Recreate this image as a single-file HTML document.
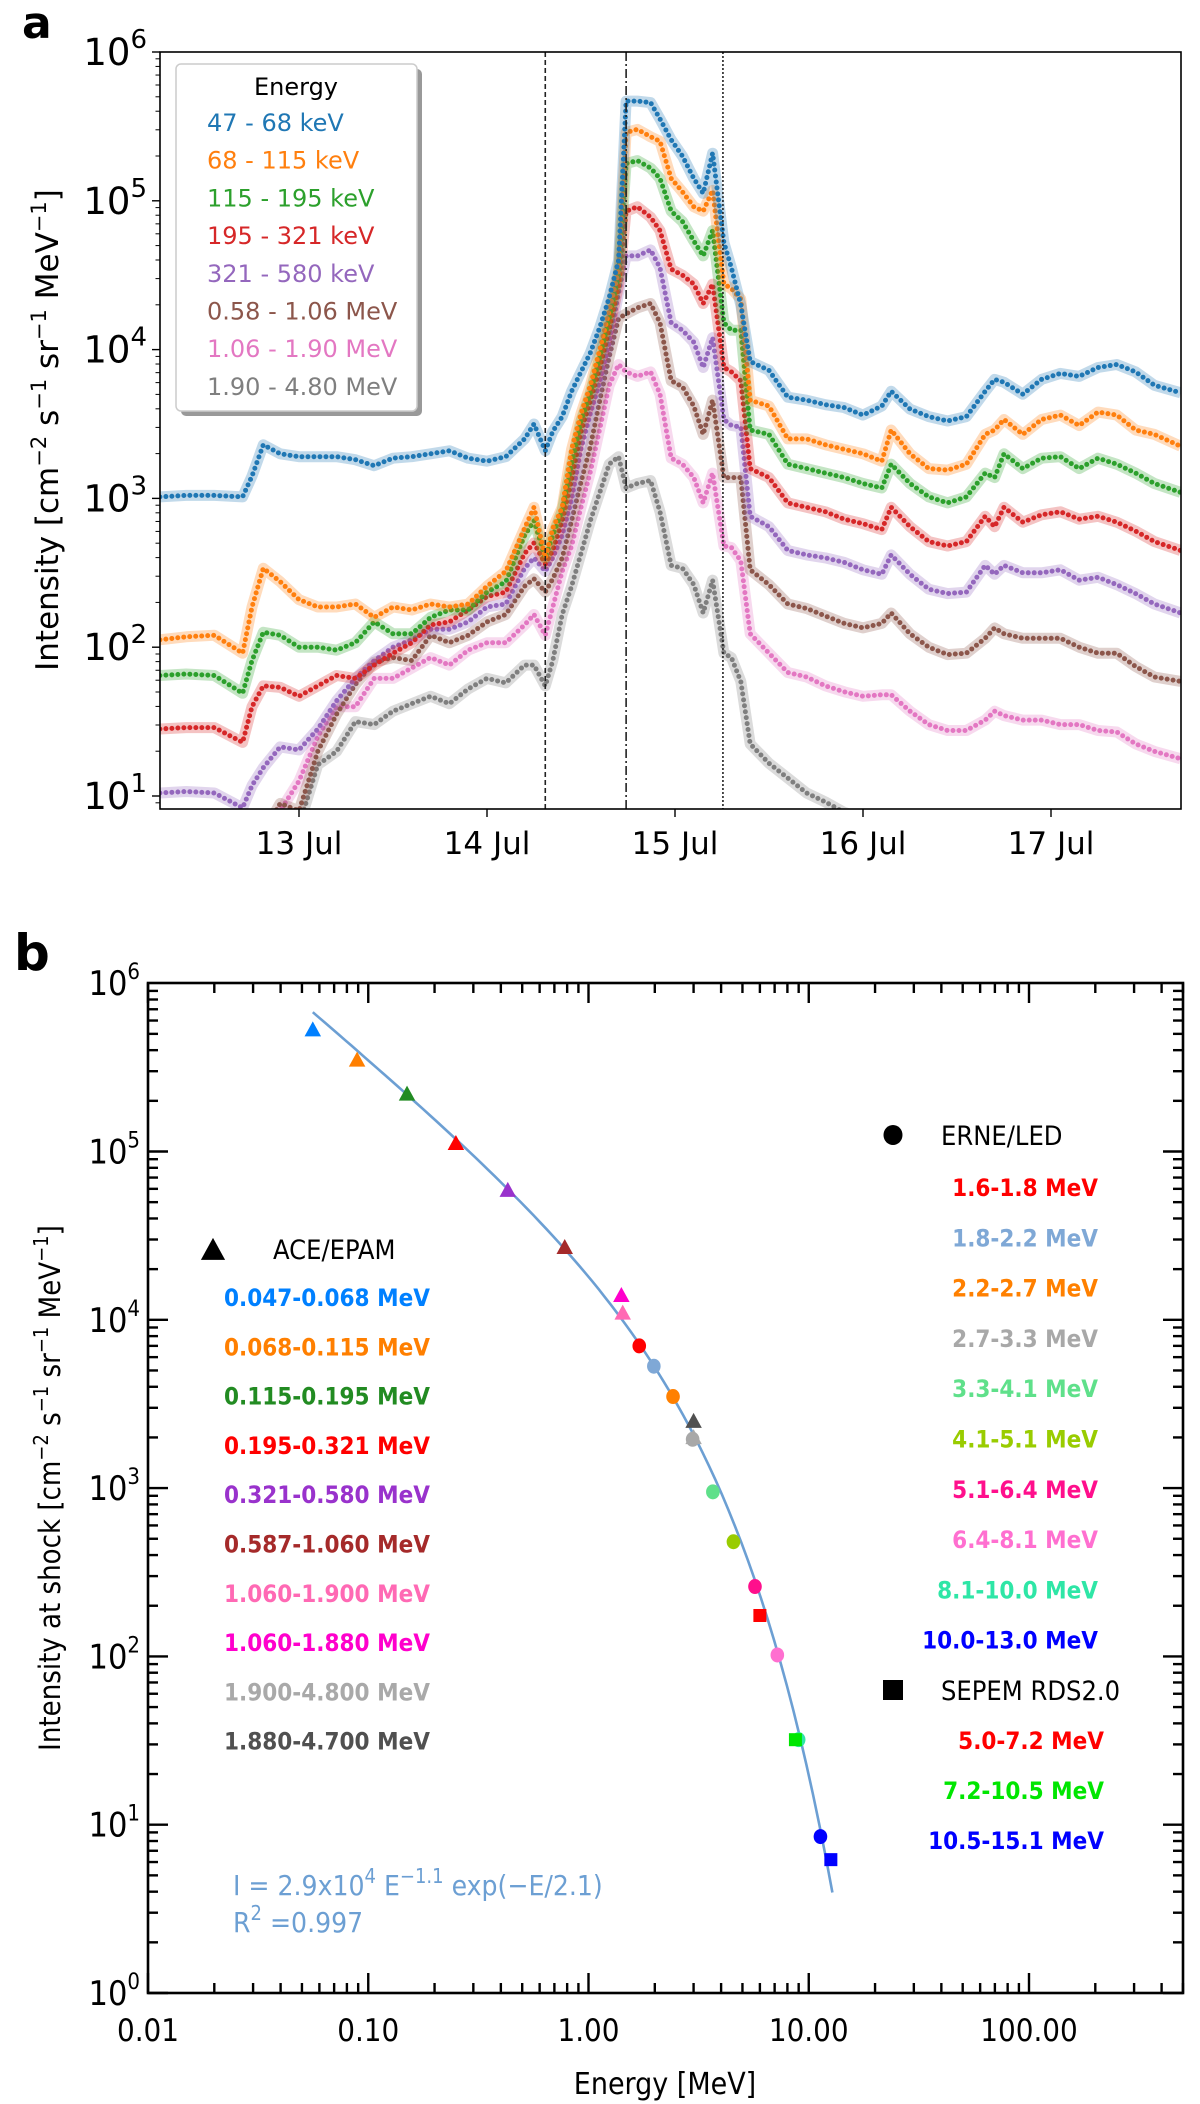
<!DOCTYPE html>
<html><head><meta charset="utf-8"><style>
html,body{margin:0;padding:0;background:#fff;}
svg{display:block;}
.ta{font-family:"DejaVu Sans","Liberation Sans",sans-serif;}
.tb{font-family:"DejaVu Sans Condensed","Liberation Sans Narrow","DejaVu Sans",sans-serif;}
</style></head><body>
<svg id="fig" width="1200" height="2104" viewBox="0 0 1200 2104" xmlns="http://www.w3.org/2000/svg">
<defs>
<clipPath id="clipA"><rect x="160" y="52" width="1021" height="757"/></clipPath>
<clipPath id="clipB"><rect x="148" y="983" width="1035" height="1010"/></clipPath>
</defs>
<text x="22" y="38" class="ta" font-size="44" font-weight="bold">a</text>
<g id="panelA"></g>
<text x="14" y="970" class="ta" font-size="50" font-weight="bold">b</text>
<g id="panelB"></g>
</svg>
<script>
// ---------- Panel a data (log10 intensity) ----------
const times = [12.26,12.4,12.55,12.7,12.75,12.81,12.9,13.0,13.1,13.2,13.3,13.4,13.5,13.6,13.7,13.8,13.9,14.0,14.1,14.2,14.25,14.31,14.35,14.4,14.45,14.5,14.55,14.6,14.65,14.7,14.74,14.8,14.87,14.92,14.98,15.04,15.1,15.15,15.2,15.26,15.3,15.35,15.4,15.5,15.6,15.7,15.8,15.9,16.0,16.1,16.15,16.25,16.35,16.45,16.55,16.65,16.7,16.75,16.85,16.95,17.05,17.15,17.25,17.35,17.45,17.55,17.69];
const logBlue = [3.01,3.02,3.02,3.01,3.15,3.36,3.30,3.28,3.28,3.28,3.26,3.22,3.27,3.28,3.30,3.32,3.27,3.25,3.28,3.40,3.50,3.32,3.45,3.55,3.72,3.85,3.98,4.15,4.35,4.60,5.67,5.67,5.66,5.55,5.41,5.30,5.15,5.05,5.32,4.72,4.55,4.30,3.92,3.86,3.68,3.66,3.63,3.61,3.56,3.62,3.72,3.60,3.55,3.52,3.55,3.72,3.80,3.78,3.70,3.80,3.84,3.82,3.88,3.90,3.85,3.76,3.71];
const logOrange = [2.05,2.07,2.08,1.96,2.27,2.53,2.44,2.32,2.27,2.27,2.29,2.20,2.27,2.25,2.29,2.27,2.29,2.41,2.51,2.80,2.94,2.60,2.80,2.94,3.33,3.57,3.76,4.00,4.26,4.53,5.46,5.48,5.43,5.40,5.15,5.06,4.96,4.93,5.07,4.44,4.41,4.34,3.66,3.62,3.40,3.40,3.36,3.33,3.30,3.25,3.46,3.30,3.20,3.19,3.23,3.43,3.46,3.53,3.43,3.53,3.56,3.49,3.58,3.56,3.46,3.43,3.35];
const logGreen = [1.81,1.82,1.81,1.69,1.91,2.10,2.08,2.00,2.00,1.98,2.03,2.17,2.09,2.09,2.20,2.25,2.25,2.37,2.44,2.75,2.85,2.60,2.75,2.92,3.23,3.52,3.71,3.95,4.21,4.50,5.25,5.27,5.22,5.15,4.93,4.86,4.73,4.63,4.80,4.18,4.13,4.13,3.46,3.43,3.23,3.20,3.17,3.14,3.10,3.07,3.23,3.10,3.01,2.97,3.01,3.17,3.14,3.30,3.20,3.27,3.28,3.20,3.27,3.23,3.17,3.10,3.04];
const logRed = [1.45,1.46,1.46,1.36,1.60,1.74,1.73,1.67,1.74,1.81,1.79,1.88,1.96,2.03,2.15,2.17,2.25,2.34,2.37,2.63,2.70,2.56,2.65,2.85,3.13,3.45,3.66,3.88,4.14,4.43,4.93,4.96,4.89,4.80,4.54,4.50,4.44,4.31,4.44,3.88,3.85,3.79,3.20,3.14,2.97,2.94,2.91,2.86,2.83,2.79,2.94,2.81,2.71,2.68,2.71,2.88,2.81,2.94,2.84,2.89,2.91,2.86,2.88,2.84,2.78,2.71,2.65];
const logPurple = [1.02,1.03,1.02,0.92,1.07,1.19,1.33,1.31,1.45,1.64,1.79,1.91,2.00,2.05,2.12,2.12,2.17,2.27,2.29,2.53,2.60,2.51,2.60,2.75,2.99,3.33,3.57,3.78,4.05,4.38,4.63,4.63,4.67,4.55,4.18,4.13,4.05,3.88,4.08,3.53,3.49,3.48,2.88,2.81,2.65,2.62,2.60,2.57,2.52,2.49,2.62,2.49,2.39,2.36,2.37,2.55,2.49,2.55,2.50,2.50,2.52,2.45,2.47,2.42,2.36,2.29,2.23];
const logBrown = [0.60,0.60,0.60,0.60,0.60,0.75,0.95,0.90,1.30,1.55,1.75,1.90,1.93,1.91,2.08,2.03,2.08,2.17,2.22,2.41,2.46,2.37,2.46,2.60,2.85,3.11,3.35,3.66,3.95,4.21,4.24,4.28,4.31,4.18,3.79,3.75,3.62,3.43,3.66,3.14,3.14,3.14,2.52,2.42,2.29,2.26,2.21,2.16,2.13,2.16,2.23,2.09,2.00,1.95,1.96,2.06,2.13,2.09,2.06,2.06,2.06,2.00,1.96,1.96,1.87,1.80,1.77];
const logPink = [0.50,0.50,0.50,0.50,0.50,0.60,0.90,1.10,1.40,1.60,1.60,1.79,1.79,1.86,1.93,1.88,1.98,2.03,2.03,2.15,2.22,2.08,2.27,2.51,2.68,2.94,3.18,3.47,3.76,3.90,3.85,3.82,3.85,3.70,3.27,3.23,3.14,2.97,3.17,2.68,2.67,2.58,2.09,1.96,1.83,1.80,1.74,1.70,1.67,1.68,1.68,1.57,1.48,1.44,1.44,1.51,1.57,1.54,1.51,1.51,1.48,1.48,1.44,1.43,1.35,1.30,1.25];
const logGray = [0.50,0.50,0.50,0.50,0.50,0.50,0.50,0.80,1.21,1.30,1.50,1.48,1.57,1.62,1.67,1.62,1.72,1.79,1.76,1.88,1.88,1.74,1.91,2.22,2.41,2.63,2.85,3.04,3.23,3.28,3.07,3.10,3.12,2.91,2.55,2.53,2.42,2.23,2.45,1.96,1.93,1.77,1.35,1.22,1.12,1.02,0.96,0.89,0.85,0.80,0.85,0.60,0.60,0.60,0.60,0.60,0.60,0.60,0.60,0.60,0.60,0.60,0.60,0.60,0.60,0.60,0.60];
const seriesLabelsA = ["47 - 68 keV","68 - 115 keV","115 - 195 keV","195 - 321 keV","321 - 580 keV","0.58 - 1.06 MeV","1.06 - 1.90 MeV","1.90 - 4.80 MeV"];
const dayTicks = [13,14,15,16,17];
const dayTickLabels = ["13 Jul","14 Jul","15 Jul","16 Jul","17 Jul"];
const eventLines = [14.31,14.74,15.255];

// ---------- Panel b data ----------
const aceLabels = ["0.047-0.068 MeV","0.068-0.115 MeV","0.115-0.195 MeV","0.195-0.321 MeV","0.321-0.580 MeV","0.587-1.060 MeV","1.060-1.900 MeV","1.060-1.880 MeV","1.900-4.800 MeV","1.880-4.700 MeV"];
const aceEnergy = [0.056,0.089,0.15,0.25,0.43,0.78,1.43,1.41,3.0,3.0];
const aceIntensity = [5.3e5,3.5e5,2.2e5,1.12e5,5.9e4,2.7e4,1.1e4,1.4e4,2.0e3,2.5e3];
const erneLabels = ["1.6-1.8 MeV","1.8-2.2 MeV","2.2-2.7 MeV","2.7-3.3 MeV","3.3-4.1 MeV","4.1-5.1 MeV","5.1-6.4 MeV","6.4-8.1 MeV","8.1-10.0 MeV","10.0-13.0 MeV"];
const erneEnergy = [1.7,1.98,2.42,2.97,3.67,4.55,5.7,7.2,9.0,11.3];
const erneIntensity = [7.0e3,5.3e3,3.5e3,1.95e3,950,480,260,102,32,8.5];
const sepemLabels = ["5.0-7.2 MeV","7.2-10.5 MeV","10.5-15.1 MeV"];
const sepemEnergy = [6.0,8.7,12.6];
const sepemIntensity = [175,32,6.2];
const fitParams = [2.9e4,-1.1,2.1];
const fitRange = [0.056,12.8];
const xTickValues = [0.01,0.1,1,10,100];
const xTickLabels = ["0.01","0.10","1.00","10.00","100.00"];

const NS="http://www.w3.org/2000/svg";
function mk(parent,tag,attrs,txt){const e=document.createElementNS(NS,tag);for(const k in attrs)e.setAttribute(k,attrs[k]);if(txt!==undefined)e.textContent=txt;parent.appendChild(e);return e;}

// ================= Panel A =================
const A=document.getElementById('panelA');
const aL=160,aR=1181,aT=52,aB=809;
const xA=t=>299+(t-13)*188;
const yA=lv=>aT+(6-lv)*148.8;
const colorsA=["#1f77b4","#ff7f0e","#2ca02c","#d62728","#9467bd","#8c564b","#e377c2","#7f7f7f"];
const seriesA=[logBlue,logOrange,logGreen,logRed,logPurple,logBrown,logPink,logGray];
const gData=mk(A,'g',{'clip-path':'url(#clipA)'});


for(let s=seriesA.length-1;s>=0;s--){
  const pts=times.map((t,i)=>xA(t).toFixed(1)+','+yA(seriesA[s][i]).toFixed(1)).join(' ');
  const band=mk(gData,'polyline',{points:pts,fill:'none',stroke:colorsA[s],'stroke-width':11,'stroke-opacity':0.28,'stroke-linejoin':'round'});
  
  
  const dots=mk(gData,'polyline',{points:pts,fill:'none',stroke:colorsA[s],'stroke-width':5,'stroke-dasharray':'0 6','stroke-linecap':'round'});
  
  
}
// event lines
const dashes=['5,3','9,3,2,3','2,2'];
eventLines.forEach((t,i)=>{
  const l=mk(A,'line',{x1:xA(t),x2:xA(t),y1:aT,y2:aB,stroke:'#222','stroke-width':1.6,'stroke-dasharray':dashes[i]});
  
  
});
// frame
const fA=mk(A,'rect',{x:aL,y:aT,width:aR-aL,height:aB-aT,fill:'none',stroke:'#000','stroke-width':1.6});


// y ticks
for(let d=1;d<=6;d++){
  const y=yA(d);
  mk(A,'line',{x1:aL-8,x2:aL,y1:y,y2:y,stroke:'#000','stroke-width':1.4});
  const t=mk(A,'text',{x:147,y:y+13,'text-anchor':'end','font-size':37,class:'ta'});
  
  
  t.appendChild(document.createTextNode('10'));
  mk(t,'tspan',{dy:-17,'font-size':26},String(d));
}
for(let d=0;d<6;d++){for(let m=2;m<=9;m++){const lv=d+Math.log10(m);if(lv<0.913)continue;const y=yA(lv);mk(A,'line',{x1:aL-4.5,x2:aL,y1:y,y2:y,stroke:'#000','stroke-width':1});}}
// x ticks
dayTicks.forEach((d,i)=>{
  const x=xA(d);
  mk(A,'line',{x1:x,x2:x,y1:aB,y2:aB+8,stroke:'#000','stroke-width':1.4});
  const t=mk(A,'text',{x:x,y:aB+45,'text-anchor':'middle','font-size':31,class:'ta'},dayTickLabels[i]);
  
  
});
// y label
{const t=mk(A,'text',{x:0,y:0,'text-anchor':'middle','font-size':31,class:'ta',transform:'translate(58,430) rotate(-90)'});
 
 
 t.appendChild(document.createTextNode('Intensity [cm'));
 mk(t,'tspan',{dy:-12,'font-size':21},'−2');
 mk(t,'tspan',{dy:12},' s');
 mk(t,'tspan',{dy:-12,'font-size':21},'−1');
 mk(t,'tspan',{dy:12},' sr');
 mk(t,'tspan',{dy:-12,'font-size':21},'−1');
 mk(t,'tspan',{dy:12},' MeV');
 mk(t,'tspan',{dy:-12,'font-size':21},'−1');
 mk(t,'tspan',{dy:12},']');
}
// legend
{const g=mk(A,'g',{});
 
 
 mk(g,'rect',{x:181,y:69,width:241,height:347,rx:5,fill:'#999'});
 mk(g,'rect',{x:176,y:64,width:241,height:347,rx:5,fill:'#fff',stroke:'#ccc','stroke-width':1.5});
 const tt=mk(g,'text',{x:296,y:95,'text-anchor':'middle','font-size':24,class:'ta'},'Energy');
 
 
 seriesLabelsA.forEach((lab,i)=>{
   const e=mk(g,'text',{x:207,y:131+i*37.7,'font-size':24,fill:colorsA[i],class:'ta'},lab);
   
   
 });
}

// ================= Panel B =================
const B=document.getElementById('panelB');
const bL=148,bR=1183,bT=983,bB=1993;
const xB=e=>bL+220.25*(Math.log10(e)+2);
const yB=v=>bB-168.3*Math.log10(v);
for(let d=-2;d<=2;d++){
  for(let m=1;m<=9;m++){
    const v=m*Math.pow(10,d); if(v>500)break;
    const x=xB(v); const len=m===1?20:10;
    mk(B,'line',{x1:x,x2:x,y1:bB,y2:bB-len,stroke:'#000','stroke-width':2.4});
    mk(B,'line',{x1:x,x2:x,y1:bT,y2:bT+len,stroke:'#000','stroke-width':2.4});
  }
}
for(let d=0;d<6;d++){
  for(let m=1;m<=9;m++){
    const y=yB(m*Math.pow(10,d)); const len=m===1?20:10;
    mk(B,'line',{x1:bL,x2:bL+len,y1:y,y2:y,stroke:'#000','stroke-width':2.4});
    mk(B,'line',{x1:bR,x2:bR-len,y1:y,y2:y,stroke:'#000','stroke-width':2.4});
  }
}
const fB=mk(B,'rect',{x:bL,y:bT,width:bR-bL,height:bB-bT,fill:'none',stroke:'#000','stroke-width':2.6});


for(let d=0;d<=6;d++){
  const y=yB(Math.pow(10,d));
  const t=mk(B,'text',{x:140,y:y+12,'text-anchor':'end','font-size':34,class:'tb'});
  
  
  t.appendChild(document.createTextNode('10'));
  mk(t,'tspan',{dy:-16,'font-size':22},String(d));
}
xTickValues.forEach((v,i)=>{
  const t=mk(B,'text',{x:xB(v),y:2041,'text-anchor':'middle','font-size':31,class:'tb'},xTickLabels[i]);
  
  
});
{const t=mk(B,'text',{x:665,y:2094,'text-anchor':'middle','font-size':30,class:'tb'},'Energy [MeV]');
 
 }
{const t=mk(B,'text',{x:0,y:0,'text-anchor':'middle','font-size':29,class:'tb',transform:'translate(60,1488) rotate(-90)'});
 
 
 t.appendChild(document.createTextNode('Intensity at shock  [cm'));
 mk(t,'tspan',{dy:-12,'font-size':20},'−2');
 mk(t,'tspan',{dy:12},' s');
 mk(t,'tspan',{dy:-12,'font-size':20},'−1');
 mk(t,'tspan',{dy:12},' sr');
 mk(t,'tspan',{dy:-12,'font-size':20},'−1');
 mk(t,'tspan',{dy:12},' MeV');
 mk(t,'tspan',{dy:-12,'font-size':20},'−1');
 mk(t,'tspan',{dy:12},']');
}
{const pts=[];const n=80;
 for(let i=0;i<=n;i++){const e=Math.exp(Math.log(fitRange[0])+(Math.log(fitRange[1])-Math.log(fitRange[0]))*i/n);
   const v=fitParams[0]*Math.pow(e,fitParams[1])*Math.exp(-e/fitParams[2]);pts.push(xB(e).toFixed(1)+','+yB(v).toFixed(1));}
 const p=mk(B,'polyline',{points:pts.join(' '),fill:'none',stroke:'#6c9fd3','stroke-width':2.6,'clip-path':'url(#clipB)'});
 
 
}
const aceColors=["#0080ff","#ff7f00","#228b22","#ff0000","#9932cc","#a52a2a","#ff69b4","#ff00cc","#a9a9a9","#505050"];
const erneColors=["#ff0000","#7fa8d6","#ff8000","#a8a8a8","#5fe08a","#99cc00","#ff0f8c","#ff6fd0","#2ee6a6","#0000ff"];
const sepemColors=["#ff0000","#00e600","#0000ff"];
const tri=(g,x,y,s,c)=>mk(g,'polygon',{points:`${x},${y-s*0.55} ${x-s*0.55},${y+s*0.45} ${x+s*0.55},${y+s*0.45}`,fill:c});
aceEnergy.forEach((e,i)=>{const m=tri(B,xB(e),yB(aceIntensity[i]),15,aceColors[i]);
 
 });
erneEnergy.forEach((e,i)=>{const m=mk(B,'ellipse',{cx:xB(e),cy:yB(erneIntensity[i]),rx:6.8,ry:7.5,fill:erneColors[i]});
 
 });
sepemEnergy.forEach((e,i)=>{const m=mk(B,'rect',{x:xB(e)-6.5,y:yB(sepemIntensity[i])-6.5,width:13,height:13,fill:sepemColors[i]});
 
 });
{const g=mk(B,'g',{});
 
 
 tri(g,213,1250,22,'#000');
 mk(g,'text',{x:273,y:1259,'font-size':27,class:'tb'},'ACE/EPAM');
 aceLabels.forEach((l,i)=>{const t=mk(g,'text',{x:224,y:1306+i*49.3,'font-size':24,'font-weight':'bold',fill:aceColors[i],class:'tb'},l);
  
  });
}
{const g=mk(B,'g',{});
 
 
 mk(g,'ellipse',{cx:893,cy:1135,rx:9.5,ry:10,fill:'#000'});
 mk(g,'text',{x:941,y:1145,'font-size':27,class:'tb'},'ERNE/LED');
 erneLabels.forEach((l,i)=>{const t=mk(g,'text',{x:1098,y:1196+i*50.3,'text-anchor':'end','font-size':24,'font-weight':'bold',fill:erneColors[i],class:'tb'},l);
  
  });
 mk(g,'rect',{x:883,y:1680,width:20,height:20,fill:'#000'});
 mk(g,'text',{x:941,y:1700,'font-size':27,class:'tb'},'SEPEM RDS2.0');
 sepemLabels.forEach((l,i)=>{const t=mk(g,'text',{x:1104,y:1749+i*50,'text-anchor':'end','font-size':24,'font-weight':'bold',fill:sepemColors[i],class:'tb'},l);
  
  });
}
{const t=mk(B,'text',{x:233,y:1895,'font-size':28,fill:'#6c9fd3',class:'tb'});
 
 
 t.appendChild(document.createTextNode('I = 2.9x10'));
 mk(t,'tspan',{dy:-12,'font-size':20},'4');
 mk(t,'tspan',{dy:12},' E');
 mk(t,'tspan',{dy:-12,'font-size':20},'−1.1');
 mk(t,'tspan',{dy:12},' exp(−E/2.1)');
 const r=mk(B,'text',{x:233,y:1932,'font-size':28,fill:'#6c9fd3',class:'tb'});
 
 
 r.appendChild(document.createTextNode('R'));
 mk(r,'tspan',{dy:-12,'font-size':20},'2');
 mk(r,'tspan',{dy:12},' =0.997');
}
</script>
</body></html>
